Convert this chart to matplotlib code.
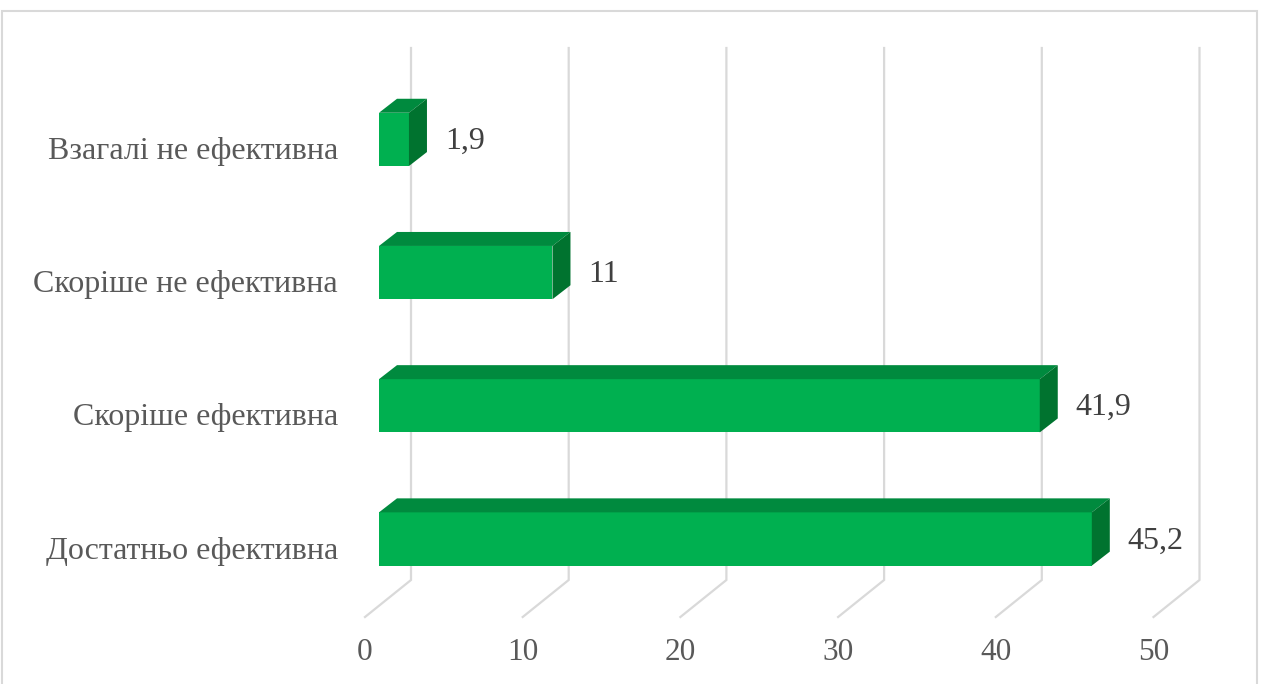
import matplotlib.pyplot as plt
from matplotlib.patches import Polygon, Rectangle

plt.rcParams['font.family'] = ['Liberation Serif', 'DejaVu Serif']

categories = ['Достатньо ефективна', 'Скоріше ефективна',
              'Скоріше не ефективна', 'Взагалі не ефективна']
values = [45.2, 41.9, 11, 1.9]
value_labels = ['45,2', '41,9', '11', '1,9']
ticks = [0, 10, 20, 30, 40, 50]

W, H = 1265, 684
fig = plt.figure(figsize=(W / 100, H / 100), dpi=100)
ax = fig.add_axes([0, 0, 1, 1])

# scale of the plot area (pixels per value unit / per category)
px_per_unit = 15.77
px_per_cat = 133.2
x0_px = 379   # front face of bars at value 0
y0_px = 539   # centre of the lowest bar
ax.set_xlim(-x0_px / px_per_unit, (W - x0_px) / px_per_unit)
ax.set_ylim((y0_px - H) / px_per_cat, y0_px / px_per_cat)
ax.axis('off')


def dx(px):
    return px / px_per_unit


def dy(px):
    return px / px_per_cat


def ypx(py):
    return (y0_px - py) / px_per_cat


grid_col = '#D9D9D9'
front_col = '#00B050'
top_col = '#008A3E'
side_col = '#00732F'

# back wall gridlines + floor lines
y_top = ypx(48)
y_back = ypx(580)
y_front = ypx(617)
for t in ticks:
    xb = t + dx(32)
    xf = t + dx(-14)
    ax.plot([xb, xb, xf], [y_top, y_back, y_front], color=grid_col, lw=1.6,
            zorder=1, solid_joinstyle='miter')
    ax.text(xf, ypx(652), str(t), ha='center', va='center', fontsize=22.5,
            color='#595959')

# 3d bars
ypos = list(range(len(categories)))
h = 0.4
bdx, bdy = dx(18), dy(14)
ax.barh(ypos, values, height=h, left=0, color=front_col, zorder=3)
for c, v in zip(ypos, values):
    top = [(0, c + h / 2), (v, c + h / 2), (v + bdx, c + h / 2 + bdy), (bdx, c + h / 2 + bdy)]
    side = [(v, c - h / 2), (v + bdx, c - h / 2 + bdy), (v + bdx, c + h / 2 + bdy), (v, c + h / 2)]
    ax.add_patch(Polygon(top, closed=True, fc=top_col, ec='none', zorder=3))
    ax.add_patch(Polygon(side, closed=True, fc=side_col, ec='none', zorder=3))

for c, v, lab in zip(ypos, values, value_labels):
    ax.text(v + bdx + dx(18), c - dy(2), lab, ha='left', va='center',
            fontsize=23, color='#404040', zorder=4)

for c, cat in zip(ypos, categories):
    ax.text(dx(-41), c - dy(12), cat, ha='right', va='center', fontsize=23,
            color='#595959')

# outer chart border
fig.add_artist(Rectangle((2 / W, -0.1), 1255 / W, 1 - 11 / H + 0.1,
                         transform=fig.transFigure, fill=False,
                         ec=grid_col, lw=1.5))

fig.savefig('out.png', dpi=100)
